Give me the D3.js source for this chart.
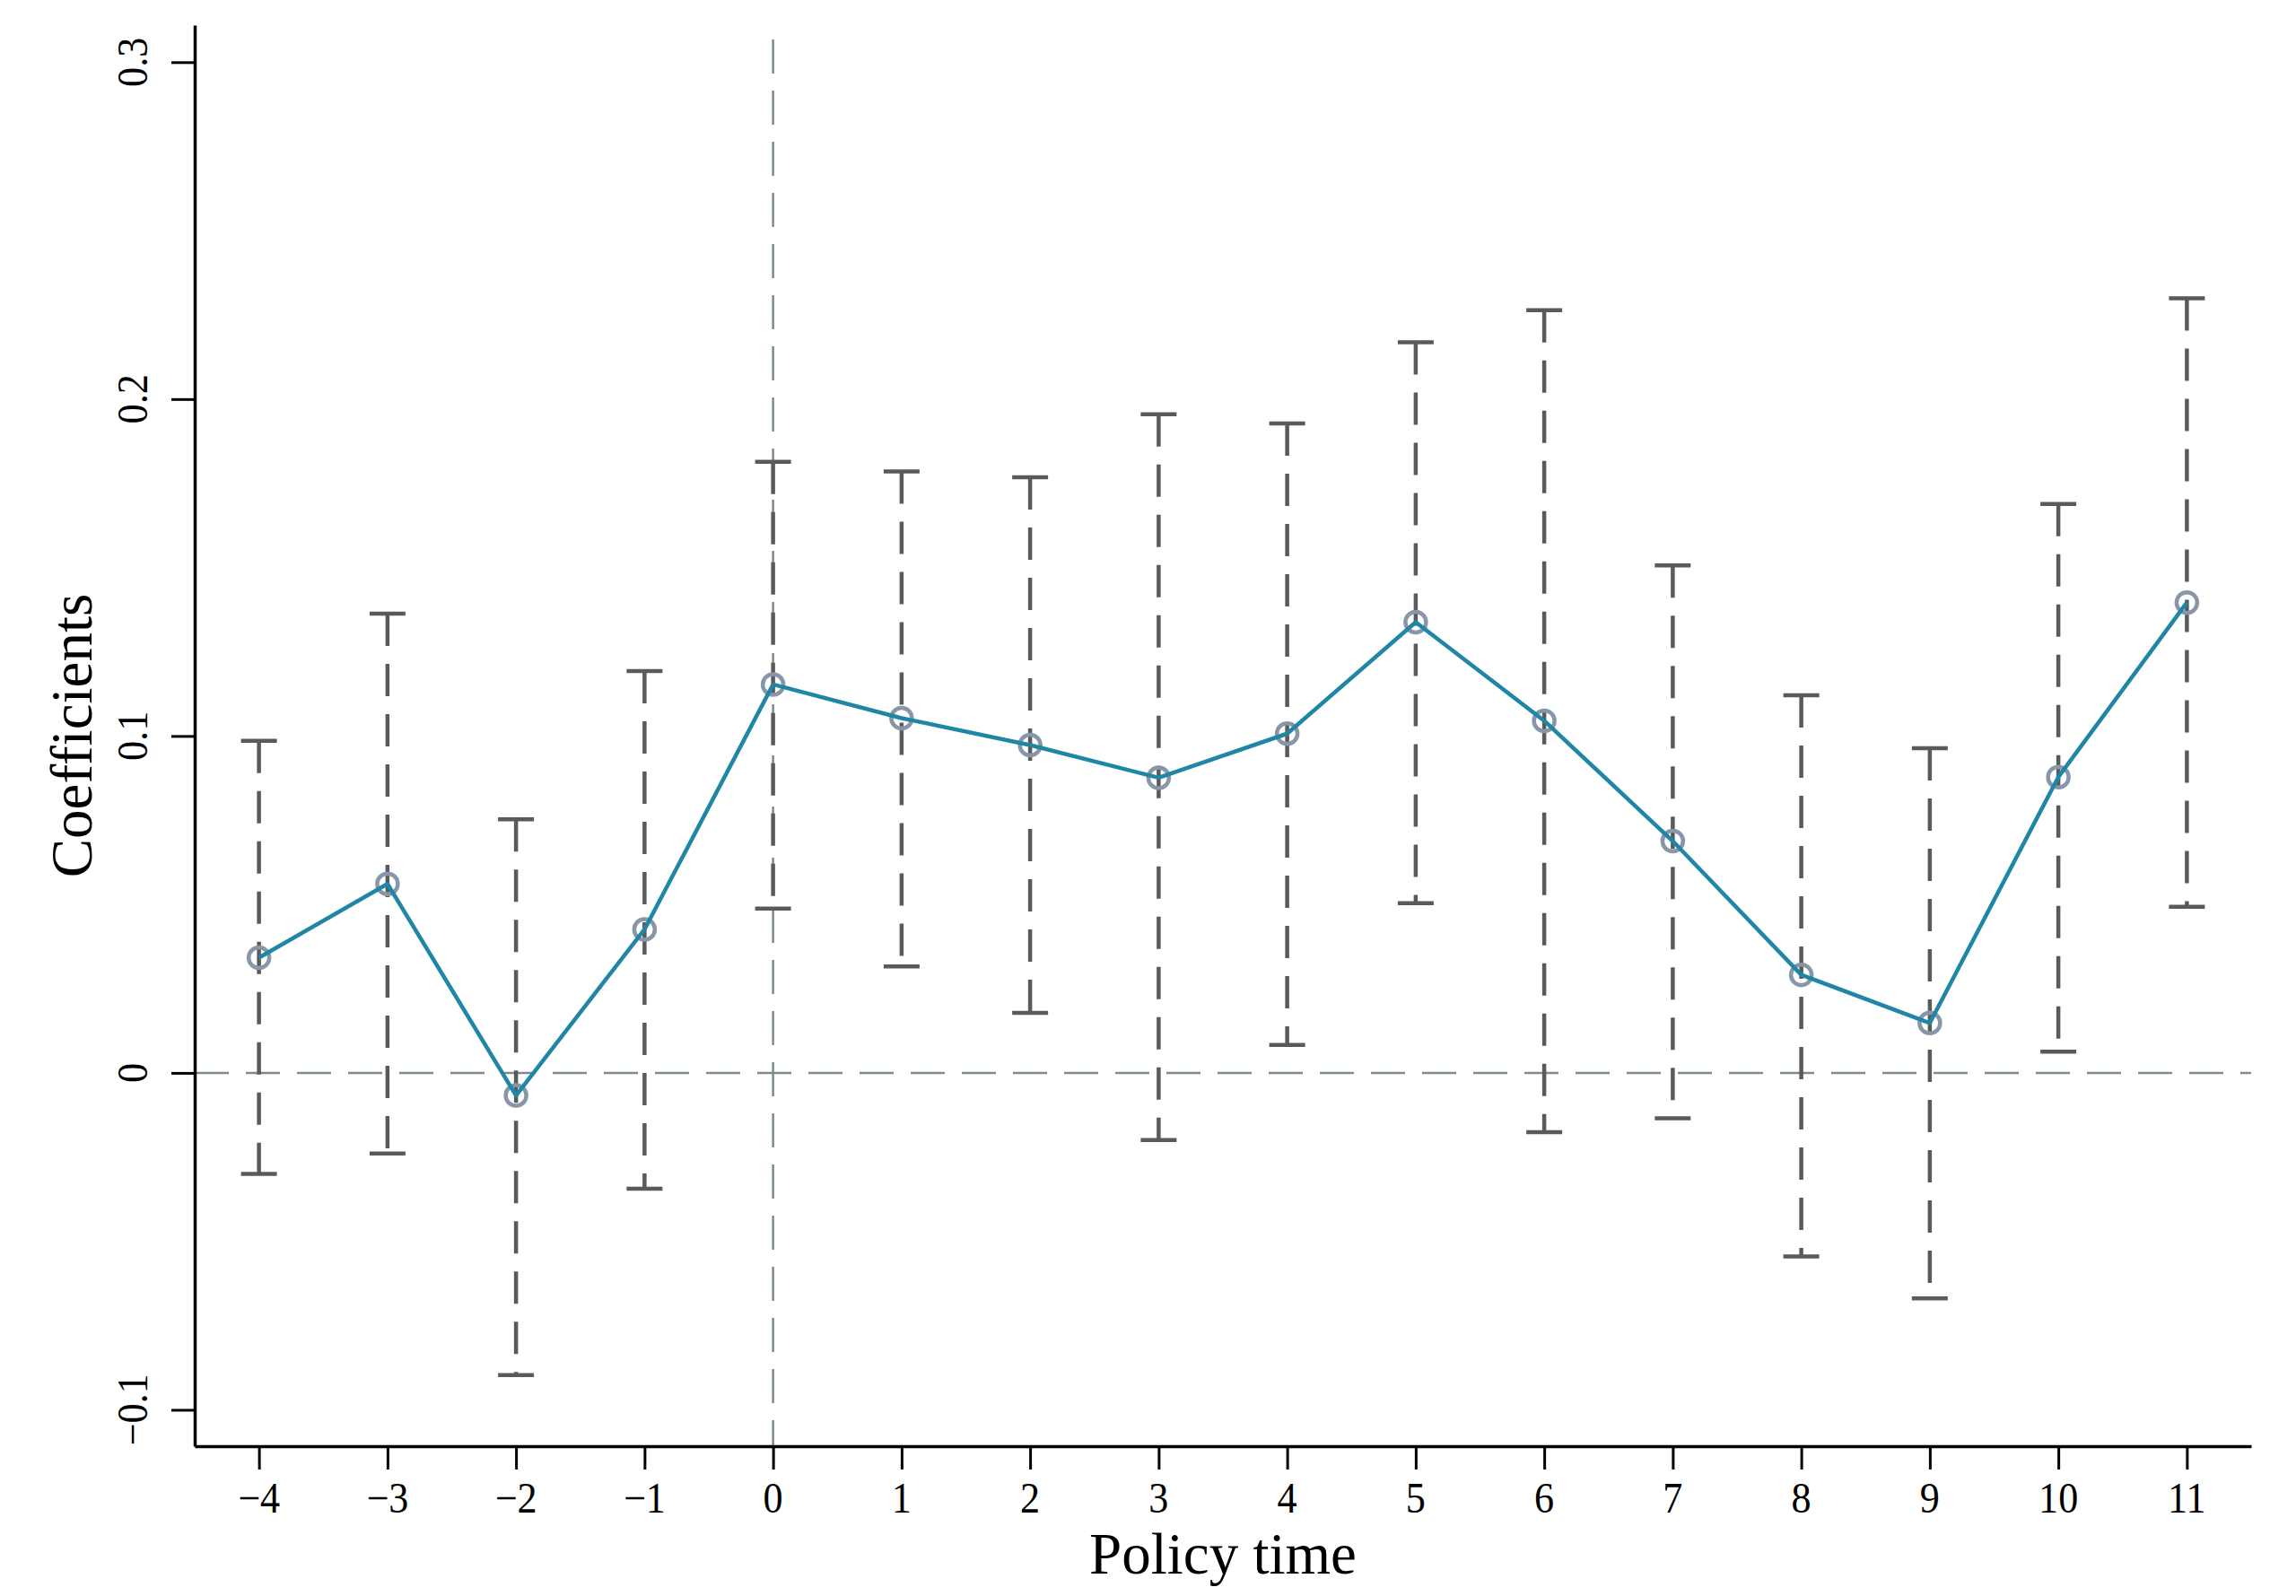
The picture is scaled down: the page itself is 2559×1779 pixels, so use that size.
<!DOCTYPE html>
<html>
<head>
<meta charset="utf-8">
<script src="https://cdn.jsdelivr.net/npm/d3@7"></script>
<style>
  html, body { margin: 0; padding: 0; background: #ffffff; }
  svg { display: block; }
</style>
</head>
<body>
<svg id="chart" width="2559" height="1779"></svg>
<script>
// ---- data ----
const periods = [-4, -3, -2, -1, 0, 1, 2, 3, 4, 5, 6, 7, 8, 9, 10, 11];
const coef    = [0.0342, 0.0561, -0.0067, 0.0426, 0.1153, 0.1053, 0.0973, 0.0876, 0.1007, 0.1338, 0.1045, 0.0688, 0.0291, 0.0148, 0.0878, 0.1396];
const ciLow   = [-0.0300, -0.0239, -0.0897, -0.0344, 0.0488, 0.0316, 0.0178, -0.0199, 0.0083, 0.0504, -0.0176, -0.0135, -0.0545, -0.0669, 0.0063, 0.0493];
const ciHigh  = [0.0986, 0.1363, 0.0753, 0.1193, 0.1814, 0.1785, 0.1768, 0.1955, 0.1928, 0.2169, 0.2264, 0.1506, 0.1121, 0.0964, 0.1689, 0.2299];
const xTickValues = [-4, -3, -2, -1, 0, 1, 2, 3, 4, 5, 6, 7, 8, 9, 10, 11];
const yTickValues = [-0.1, 0, 0.1, 0.2, 0.3];
const yTickLabels = ["\u22120.1", "0", "0.1", "0.2", "0.3"];
const xTitle = "Policy time";
const yTitle = "Coefficients";

const svg = d3.select("#chart");
svg.append("rect").attr("width", 2559).attr("height", 1779).attr("fill", "#ffffff");

const x = d3.scaleLinear().domain([-4.5, 11.5]).range([217, 2509]);
const y = d3.scaleLinear().domain([-0.1108, 0.311]).range([1612, 28]);

const serif = "'Liberation Serif', 'Times New Roman', serif";
const sx = 0.92;

// reference lines
svg.append("line")
  .attr("x1", x(-4.5)).attr("x2", x(11.5))
  .attr("y1", y(0)).attr("y2", y(0))
  .attr("stroke", "#7d8b8b").attr("stroke-width", 2.5)
  .attr("stroke-dasharray", "38,19");
svg.append("line")
  .attr("x1", x(0)).attr("x2", x(0))
  .attr("y1", y(0.311) + 16).attr("y2", y(-0.1108))
  .attr("stroke", "#7d8b8b").attr("stroke-width", 2.5)
  .attr("stroke-dasharray", "38,19");

const data = periods.map((p, i) => ({p, c: coef[i], lo: ciLow[i], hi: ciHigh[i]}));

// confidence intervals
const ci = svg.append("g").attr("stroke", "#5a5a5a").attr("fill", "none");
ci.selectAll("line.v").data(data).join("line")
  .attr("class", "v")
  .attr("x1", d => x(d.p)).attr("x2", d => x(d.p))
  .attr("y1", d => y(d.hi)).attr("y2", d => y(d.lo))
  .attr("stroke-width", 4.5)
  .attr("stroke-dasharray", "36,20");
ci.selectAll("line.top").data(data).join("line")
  .attr("class", "top")
  .attr("x1", d => x(d.p) - 20).attr("x2", d => x(d.p) + 20)
  .attr("y1", d => y(d.hi)).attr("y2", d => y(d.hi))
  .attr("stroke-width", 4.5);
ci.selectAll("line.bot").data(data).join("line")
  .attr("class", "bot")
  .attr("x1", d => x(d.p) - 20).attr("x2", d => x(d.p) + 20)
  .attr("y1", d => y(d.lo)).attr("y2", d => y(d.lo))
  .attr("stroke-width", 4.5);

// markers
svg.append("g").selectAll("circle").data(data).join("circle")
  .attr("cx", d => x(d.p)).attr("cy", d => y(d.c)).attr("r", 11.5)
  .attr("fill", "none").attr("stroke", "#8797a9").attr("stroke-width", 4.5);

// coefficient line
svg.append("path").datum(data)
  .attr("fill", "none").attr("stroke", "#1f86a6").attr("stroke-width", 4.5)
  .attr("stroke-linejoin", "round")
  .attr("d", d3.line().x(d => x(d.p)).y(d => y(d.c)));

// axes
const xAxis = d3.axisBottom(x).tickValues(xTickValues).tickSize(26).tickSizeOuter(0).tickFormat("");
const gx = svg.append("g").attr("transform", `translate(0,${y(-0.1108)})`).call(xAxis);
gx.select(".domain").attr("stroke", "#000").attr("stroke-width", 3.5);
gx.selectAll(".tick line").attr("stroke", "#000").attr("stroke-width", 3);

const yAxis = d3.axisLeft(y).tickValues(yTickValues).tickSize(26).tickSizeOuter(0).tickFormat("");
const gy = svg.append("g").attr("transform", `translate(${x(-4.5)},0)`).call(yAxis);
gy.select(".domain").attr("stroke", "#000").attr("stroke-width", 3.5);
gy.selectAll(".tick line").attr("stroke", "#000").attr("stroke-width", 3);

// tick labels
svg.append("g").selectAll("text").data(xTickValues).join("text")
  .attr("transform", d => `translate(${x(d)},1686) scale(${sx},1)`)
  .attr("text-anchor", "middle")
  .attr("font-family", serif).attr("font-size", 48).attr("fill", "#000")
  .text(d => d < 0 ? "\u2212" + Math.abs(d) : String(d));

svg.append("g").selectAll("text").data(yTickValues).join("text")
  .attr("transform", d => `translate(164,${y(d)}) rotate(-90) scale(${sx},1)`)
  .attr("text-anchor", "middle")
  .attr("font-family", serif).attr("font-size", 48).attr("fill", "#000")
  .text((d, i) => yTickLabels[i]);

// axis titles
svg.append("text")
  .attr("transform", `translate(${(x(-4.5) + x(11.5)) / 2},1754)`)
  .attr("text-anchor", "middle")
  .attr("font-family", serif).attr("font-size", 65).attr("fill", "#000")
  .text(xTitle);

svg.append("text")
  .attr("transform", `translate(102,820) rotate(-90)`)
  .attr("text-anchor", "middle")
  .attr("font-family", serif).attr("font-size", 65).attr("fill", "#000")
  .text(yTitle);
</script>
</body>
</html>
